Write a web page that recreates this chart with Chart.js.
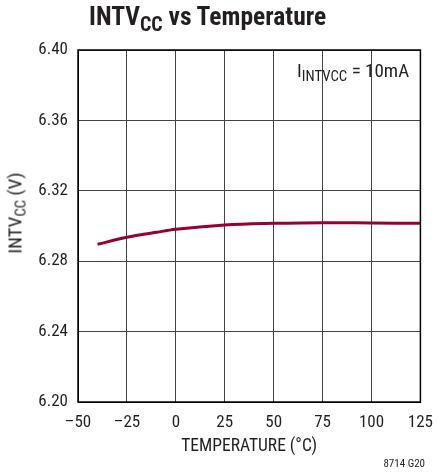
<!DOCTYPE html>
<html lang="en">
<head>
    <meta charset="UTF-8">
    <title>INTVCC vs Temperature</title>
    <script src="https://cdn.jsdelivr.net/npm/chart.js"></script>
    <style>
        body { margin: 0; background: #fff; }
        .wrap { position: relative; width: 444px; height: 472px; font-family: "Roboto Condensed", "Liberation Sans", sans-serif; color: #231f20; }
        .title { position: absolute; left: 89px; top: 1px; font-size: 25.5px; font-weight: bold; white-space: nowrap; }
        .title sub, .note sub, .ylabel sub { font-size: 0.78em; vertical-align: -0.3em; line-height: 0; }
        .note { position: absolute; left: 297px; top: 59px; font-size: 19px; white-space: nowrap; }
        .ylabel { position: absolute; left: 15px; top: 213px; font-size: 19px; white-space: nowrap; transform: translate(-50%, -50%) rotate(-90deg); }
        .code { position: absolute; right: 19px; top: 457px; font-size: 11px; }
    </style>
</head>
<body>
    <div class="wrap">
        <canvas id="chart" width="444" height="472"></canvas>
        <div class="title">INTV<sub>CC</sub> vs Temperature</div>
        <div class="note">I<sub>INTVCC</sub> = 10mA</div>
        <div class="ylabel">INTV<sub>CC</sub> (V)</div>
        <div class="code">8714 G20</div>
    </div>
    <script>
        const temps = [-40, -25, -10, 0, 25, 50, 75, 100, 125];
        const volts = [6.2896, 6.2936, 6.2964, 6.2981, 6.3006, 6.3015, 6.3019, 6.3017, 6.3015];
        const xTicks = [-50, -25, 0, 25, 50, 75, 100, 125];
        const yTicks = [6.20, 6.24, 6.28, 6.32, 6.36, 6.40];

        const fontFamily = '"Roboto Condensed", "Liberation Sans", sans-serif';

        // black frame around the plot
        const frame = {
            id: 'frame',
            afterDatasetsDraw(chart) {
                const a = chart.chartArea;
                const ctx = chart.ctx;
                ctx.save();
                ctx.strokeStyle = '#000';
                ctx.lineWidth = 1.5;
                ctx.strokeRect(a.left, a.top, a.right - a.left, a.bottom - a.top);
                ctx.restore();
            }
        };

        new Chart(document.getElementById('chart'), {
            type: 'line',
            data: {
                datasets: [{
                    data: temps.map((t, i) => ({ x: t, y: volts[i] })),
                    borderColor: '#970032',
                    borderWidth: 3,
                    pointRadius: 0,
                    cubicInterpolationMode: 'monotone',
                    fill: false
                }]
            },
            options: {
                responsive: false,
                animation: false,
                layout: { padding: { top: 50, right: 14, left: 0, bottom: 15 } },
                plugins: { legend: { display: false }, tooltip: { enabled: false } },
                scales: {
                    x: {
                        type: 'linear',
                        min: -50,
                        max: 125,
                        afterBuildTicks: s => { s.ticks = xTicks.map(v => ({ value: v })); },
                        afterFit: s => { s.height = 55; },
                        ticks: {
                            padding: 11,
                            color: '#231f20',
                            font: { family: fontFamily, size: 17 },
                            callback: v => v < 0 ? '\u2013' + Math.abs(v) : String(v)
                        },
                        grid: { color: '#444', lineWidth: 1, drawTicks: false },
                        border: { color: '#000', width: 1 },
                        title: {
                            display: true,
                            text: 'TEMPERATURE (°C)',
                            color: '#231f20',
                            font: { family: fontFamily, size: 17.5 },
                            padding: { top: 0, bottom: 0 }
                        }
                    },
                    y: {
                        min: 6.2,
                        max: 6.4,
                        afterBuildTicks: s => { s.ticks = yTicks.map(v => ({ value: v })); },
                        afterFit: s => { s.width = 78; },
                        ticks: {
                            padding: 10,
                            color: '#231f20',
                            font: { family: fontFamily, size: 17 },
                            callback: v => v.toFixed(2)
                        },
                        grid: { color: '#444', lineWidth: 1, drawTicks: false },
                        border: { color: '#000', width: 1 }
                    }
                }
            },
            plugins: [frame]
        });
    </script>
</body>
</html>
